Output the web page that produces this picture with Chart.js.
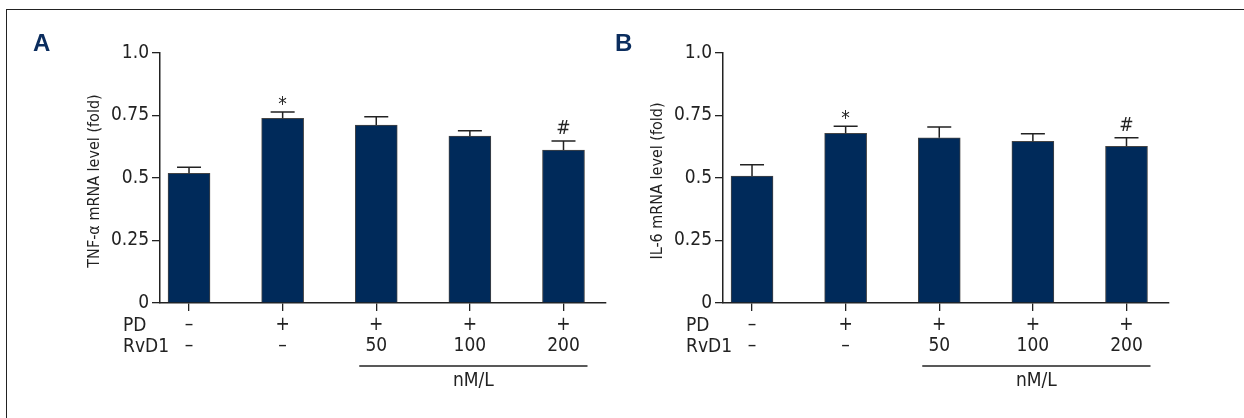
<!DOCTYPE html>
<html>
<head>
<meta charset="utf-8">
<script src="https://cdn.jsdelivr.net/npm/chart.js@4.4.1/dist/chart.umd.min.js"></script>
<style>
  body { margin: 0; background: #fff; }
  #frame { position: absolute; left: 6px; top: 9px; width: 1300px; height: 500px;
           border-left: 1px solid #222; border-top: 1px solid #222; }
  .panel { position: absolute; top: 0; width: 622px; height: 418px; }
</style>
</head>
<body>
<div id="frame"></div>
<div class="panel" style="left:0"><canvas id="chartA"></canvas></div>
<div class="panel" style="left:563px"><canvas id="chartB"></canvas></div>
<script>
// groups: PD / RvD1 (nM/L)
const groups = [0, 1, 2, 3, 4];
const pdLabels = ['–', '+', '+', '+', '+'];
const rvd1Labels = ['–', '–', '50', '100', '200'];

const tnfMean = [0.519, 0.739, 0.712, 0.668, 0.612];
const tnfErr = [0.024, 0.025, 0.033, 0.021, 0.036];
const tnfMarks = ['', '*', '', '', '#'];

const il6Mean = [0.508, 0.679, 0.661, 0.647, 0.627];
const il6Err = [0.045, 0.028, 0.043, 0.030, 0.034];
const il6Marks = ['', '*', '', '', '#'];

const yTicks = [0, 0.25, 0.5, 0.75, 1.0];
const yTickLabels = ['0', '0.25', '0.5', '0.75', '1.0'];

const FONT = "'Liberation Sans Narrow', 'DejaVu Sans Condensed', sans-serif";
const INK = '#222';
const NAVY = '#002a5a';

function extrasPlugin(letter, letterX, title, mean, err, marks) {
    return {
        id: 'extras',
        afterDatasetsDraw(chart) {
            const ctx = chart.ctx;
            const xs = chart.scales.x, ys = chart.scales.y;
            ctx.save();
            ctx.strokeStyle = INK;
            ctx.fillStyle = INK;
            ctx.lineWidth = 1.5;
            // error bars (upper only) and significance marks
            groups.forEach(i => {
                const x = xs.getPixelForValue(i);
                const yBar = ys.getPixelForValue(mean[i]);
                const yTop = ys.getPixelForValue(mean[i] + err[i]);
                ctx.beginPath();
                ctx.moveTo(x, yBar);
                ctx.lineTo(x, yTop);
                ctx.moveTo(x - 12, yTop);
                ctx.lineTo(x + 12, yTop);
                ctx.stroke();
                if (marks[i]) {
                    ctx.font = '19px ' + FONT;
                    ctx.textAlign = 'center';
                    ctx.textBaseline = 'middle';
                    ctx.fillText(marks[i], x, yTop - (marks[i] === '*' ? 7 : 12));
                }
            });
            ctx.restore();
        },
        afterDraw(chart) {
            const ctx = chart.ctx;
            const xs = chart.scales.x, ys = chart.scales.y;
            ctx.save();
            // panel letter
            ctx.fillStyle = '#0b2d5e';
            ctx.font = "bold 24px 'Liberation Sans', sans-serif";
            ctx.textAlign = 'left';
            ctx.textBaseline = 'middle';
            ctx.fillText(letter, letterX, 44);
            // y title
            ctx.fillStyle = INK;
            ctx.font = '16px ' + FONT;
            ctx.translate(95, (ys.top + ys.bottom) / 2 + 3);
            ctx.rotate(-Math.PI / 2);
            ctx.textAlign = 'center';
            ctx.fillText(title, 0, 0);
            ctx.restore();

            ctx.save();
            ctx.fillStyle = INK;
            ctx.strokeStyle = INK;
            ctx.font = '19px ' + FONT;
            ctx.textAlign = 'left';
            ctx.textBaseline = 'middle';
            ctx.fillText('PD', 123, 326);
            ctx.fillText('RvD1', 123, 347);
            // concentration bracket
            const x1 = xs.getPixelForValue(2) - 17;
            const x2 = xs.getPixelForValue(4) + 24;
            ctx.lineWidth = 1.3;
            ctx.beginPath();
            ctx.moveTo(x1, 366);
            ctx.lineTo(x2, 366);
            ctx.stroke();
            ctx.textAlign = 'center';
            ctx.fillText('nM/L', (x1 + x2) / 2, 381);
            ctx.restore();
        }
    };
}

function makeChart(id, letter, letterX, title, mean, err, marks) {
    return new Chart(document.getElementById(id), {
        type: 'bar',
        data: {
            datasets: [{
                data: groups.map(i => ({ x: i, y: mean[i] })),
                backgroundColor: NAVY,
                borderColor: '#444',
                borderWidth: 1,
                barThickness: 42
            }]
        },
        options: {
            responsive: true, maintainAspectRatio: false,
            animation: false, devicePixelRatio: 1,
            layout: { padding: { left: 0, right: 16, top: 53, bottom: 0 } },
            plugins: { legend: { display: false }, tooltip: { enabled: false } },
            scales: {
                x: {
                    type: 'linear', min: -0.31, max: 4.454, offset: false,
                    afterBuildTicks: s => { s.ticks = groups.map(v => ({ value: v })); },
                    afterFit: s => { s.height = 115; },
                    grid: { offset: false, drawOnChartArea: false, tickLength: 8, color: INK, lineWidth: 1.3 },
                    border: { color: INK, width: 1.5 },
                    ticks: {
                        autoSkip: false, maxRotation: 0, padding: 3, color: INK,
                        font: { family: FONT, size: 19, lineHeight: 1.12 },
                        callback: v => [pdLabels[v], rvd1Labels[v]]
                    }
                },
                y: {
                    min: 0, max: 1,
                    afterBuildTicks: s => { s.ticks = yTicks.map(v => ({ value: v })); },
                    afterFit: s => { s.width = 160; },
                    grid: { drawOnChartArea: false, tickLength: 8, color: INK, lineWidth: 1.3 },
                    border: { color: INK, width: 1.5 },
                    ticks: {
                        padding: 3, color: INK,
                        font: { family: FONT, size: 19 },
                        callback: v => yTickLabels[yTicks.indexOf(v)]
                    }
                }
            }
        },
        plugins: [extrasPlugin(letter, letterX, title, mean, err, marks)]
    });
}

makeChart('chartA', 'A', 33, 'TNF-α mRNA level (fold)', tnfMean, tnfErr, tnfMarks);
makeChart('chartB', 'B', 52, 'IL-6 mRNA level (fold)', il6Mean, il6Err, il6Marks);
</script>
</body>
</html>
